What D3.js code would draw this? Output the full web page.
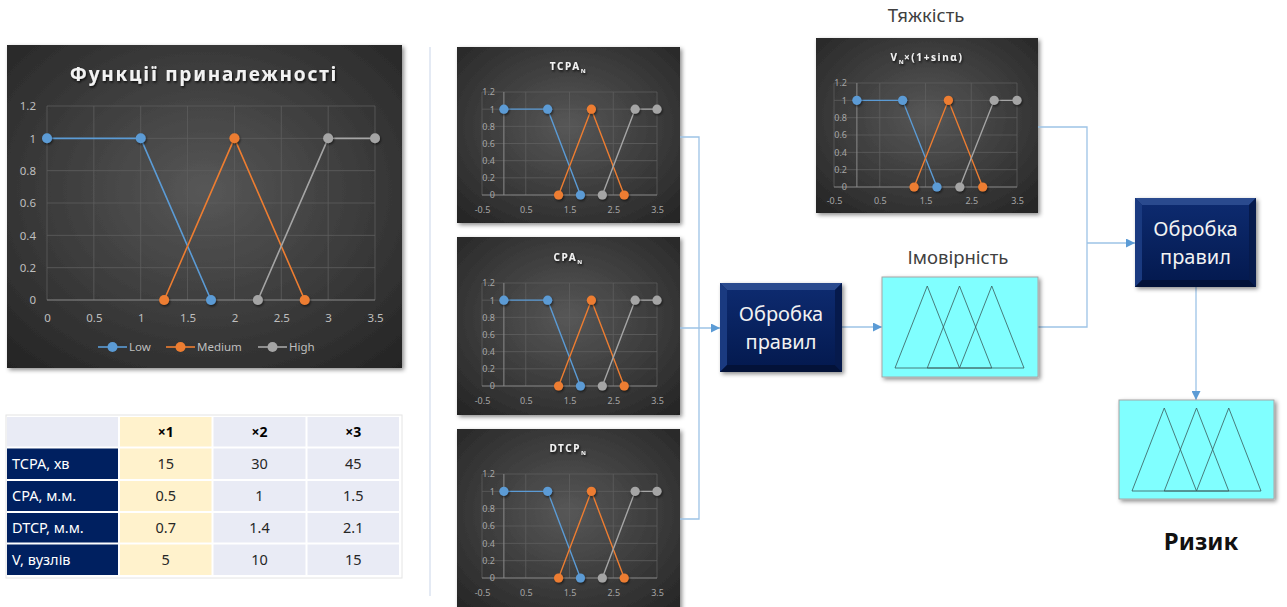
<!DOCTYPE html>
<html><head><meta charset="utf-8">
<script src="https://cdn.jsdelivr.net/npm/d3@7"></script>
<style>
body{margin:0;background:#fff;}
svg{display:block;font-family:"Noto Sans","DejaVu Sans",sans-serif;}
</style>
</head><body>
<svg id="c" width="1287" height="607"></svg>
<script>
// Membership functions: x-coordinates and degrees for each linguistic term
const lowX = [0, 1, 1.75],    lowY = [1, 1, 0];
const medX = [1.25, 2, 2.75], medY = [0, 1, 0];
const highX = [2.25, 3, 3.5], highY = [0, 1, 1];
const seriesNames = ["Low", "Medium", "High"];
const seriesColors = ["#5B9BD5", "#ED7D31", "#A5A5A5"];

const bigXTicks = [0, 0.5, 1, 1.5, 2, 2.5, 3, 3.5];
const smallXTicks = [-0.5, 0.5, 1.5, 2.5, 3.5];
const yTicks = [0, 0.2, 0.4, 0.6, 0.8, 1, 1.2];

// Normalisation table
const tableHead = ["", "×1", "×2", "×3"];
const tableRows = ["TCPA, хв", "CPA, м.м.", "DTCP, м.м.", "V, вузлів"];
const x1Vals = [15, 0.5, 0.7, 5];
const x2Vals = [30, 1, 1.4, 10];
const x3Vals = [45, 1.5, 2.1, 15];

// Output fuzzy terms (triangles centred on these points, half-width 1)
const outCenters = [0, 1, 2];

const svg = d3.select("#c");
const defs = svg.append("defs");

const rg = defs.append("radialGradient").attr("id", "bg")
  .attr("cx", "50%").attr("cy", "45%").attr("r", "75%");
rg.append("stop").attr("offset", "0%").attr("stop-color", "#575757");
rg.append("stop").attr("offset", "100%").attr("stop-color", "#232323");

function shadow(id, dx, dy, sd, op) {
  defs.append("filter").attr("id", id)
    .attr("x", "-20%").attr("y", "-20%").attr("width", "150%").attr("height", "150%")
    .append("feDropShadow").attr("dx", dx).attr("dy", dy)
    .attr("stdDeviation", sd).attr("flood-color", "#000").attr("flood-opacity", op);
}
shadow("boxShadow", 2, 2, 2, 0.45);
shadow("textShadow", 1, 1.5, 1, 0.8);
shadow("dotShadow", 1, 1.5, 1, 0.55);

const navyGrad = defs.append("linearGradient").attr("id", "navy")
  .attr("x1", 0).attr("y1", 0).attr("x2", 0).attr("y2", 1);
navyGrad.append("stop").attr("offset", "0%").attr("stop-color", "#0d2a6e");
navyGrad.append("stop").attr("offset", "100%").attr("stop-color", "#041a50");

const lineColor = "#9DC3E6";
const arrowColor = "#5B9BD5";
defs.append("marker").attr("id", "arrow")
  .attr("viewBox", "0 0 10 10").attr("refX", 10).attr("refY", 5)
  .attr("markerWidth", 9).attr("markerHeight", 9).attr("markerUnits", "userSpaceOnUse")
  .attr("orient", "auto")
  .append("path").attr("d", "M0,0L10,5L0,10Z").attr("fill", arrowColor);

const series = [[lowX, lowY], [medX, medY], [highX, highY]];

// A membership-function chart on a dark panel
function mfChart(cfg) {
  const g = svg.append("g");
  g.append("rect").attr("x", cfg.x).attr("y", cfg.y).attr("width", cfg.w).attr("height", cfg.h)
    .attr("fill", "url(#bg)").attr("filter", "url(#boxShadow)");

  const xs = d3.scaleLinear().domain(cfg.xDomain).range(cfg.xRange);
  const ys = d3.scaleLinear().domain([0, 1.2]).range(cfg.yRange);

  // grid
  g.selectAll(null).data(yTicks.filter(v => v > 0)).join("line")
    .attr("x1", cfg.xRange[0]).attr("x2", cfg.xRange[1])
    .attr("y1", d => ys(d)).attr("y2", d => ys(d))
    .attr("stroke", "#5e5e5e").attr("stroke-width", 0.8);
  g.selectAll(null).data(cfg.gridX).join("line")
    .attr("x1", d => xs(d)).attr("x2", d => xs(d))
    .attr("y1", ys(0)).attr("y2", ys(1.2))
    .attr("stroke", "#5e5e5e").attr("stroke-width", 0.8);
  if (cfg.axisX != null) {
    g.append("line").attr("x1", xs(cfg.axisX)).attr("x2", xs(cfg.axisX))
      .attr("y1", ys(0)).attr("y2", ys(1.2))
      .attr("stroke", "#8a8a8a").attr("stroke-width", 1);
  }
  g.append("line").attr("x1", cfg.xRange[0]).attr("x2", cfg.xRange[1])
    .attr("y1", ys(0)).attr("y2", ys(0))
    .attr("stroke", "#8a8a8a").attr("stroke-width", 1);

  // tick labels
  const xa = g.append("g").attr("transform", `translate(0,${ys(0)})`)
    .call(d3.axisBottom(xs).tickValues(cfg.xTicks).tickSize(0)
      .tickPadding(cfg.xPad).tickFormat(d => String(d)));
  const ya = g.append("g").attr("transform", `translate(${cfg.yLabelX},0)`)
    .call(d3.axisLeft(ys).tickValues(yTicks).tickSize(0)
      .tickPadding(0).tickFormat(d => String(d)));
  [xa, ya].forEach(a => {
    a.select(".domain").remove();
    a.selectAll("text").attr("fill", cfg.labelColor).attr("font-size", cfg.fs)
      .attr("font-family", "'Noto Sans',sans-serif");
  });

  // series
  const line = d3.line().x(d => xs(d[0])).y(d => ys(d[1]));
  series.forEach((s, i) => {
    const pts = s[0].map((v, k) => [v, s[1][k]]);
    g.append("path").attr("d", line(pts)).attr("fill", "none")
      .attr("stroke", seriesColors[i]).attr("stroke-width", cfg.lw);
  });
  series.forEach((s, i) => {
    const pts = s[0].map((v, k) => [v, s[1][k]]);
    g.selectAll(null).data(pts).join("circle")
      .attr("cx", d => xs(d[0])).attr("cy", d => ys(d[1])).attr("r", cfg.r)
      .attr("fill", seriesColors[i]).attr("filter", "url(#dotShadow)");
  });

  // title
  const t = g.append("text").attr("x", cfg.titleX).attr("y", cfg.titleY)
    .attr("text-anchor", "middle").attr("fill", "#f2f2f2")
    .attr("font-weight", "bold").attr("font-size", cfg.titleFs)
    .attr("letter-spacing", cfg.titleLs).attr("filter", "url(#textShadow)");
  cfg.title.forEach(p => {
    const ts = t.append("tspan").text(p.t);
    if (p.sub) ts.attr("font-size", cfg.titleFs * 0.6).attr("dy", 2.5).attr("letter-spacing", 0.5);
    if (p.back) ts.attr("dy", -2.5);
  });
  return { g, xs, ys };
}

// Main chart
const big = mfChart({
  x: 7, y: 45, w: 395, h: 323,
  xDomain: [0, 3.5], xRange: [47, 375], yRange: [300, 106],
  gridX: bigXTicks, axisX: null, xTicks: bigXTicks, xPad: 14,
  yLabelX: 36, fs: 11.5, labelColor: "#bfbfbf", lw: 1.6, r: 5,
  title: [{ t: "Функції приналежності" }], titleX: 204, titleY: 81, titleFs: 19, titleLs: 1.8
});
// legend of the main chart
const legX = [98, 166, 258];
seriesNames.forEach((n, i) => {
  const lg = big.g.append("g").attr("transform", `translate(${legX[i]},347)`);
  lg.append("line").attr("x1", 0).attr("x2", 29).attr("stroke", seriesColors[i]).attr("stroke-width", 1.6);
  lg.append("circle").attr("cx", 14.5).attr("r", 5).attr("fill", seriesColors[i]);
  lg.append("text").attr("x", 31).attr("dy", "0.35em").attr("font-size", 11.5)
    .attr("fill", "#bfbfbf").text(n);
});

// Input variables
const smallCommon = {
  xDomain: [-0.5, 3.5], gridX: smallXTicks, axisX: 0, xTicks: smallXTicks,
  fs: 9, labelColor: "#a6a6a6", lw: 1.4, r: 4.6, titleFs: 10, titleLs: 1.6
};
mfChart(Object.assign({}, smallCommon, {
  x: 457, y: 47, w: 223, h: 176, xRange: [482, 657], yRange: [195, 92],
  xPad: 12, yLabelX: 495, title: [{ t: "TCPA" }, { t: "N", sub: true }],
  titleX: 568, titleY: 70
}));
mfChart(Object.assign({}, smallCommon, {
  x: 457, y: 237, w: 223, h: 178, xRange: [482, 657], yRange: [386, 283],
  xPad: 12, yLabelX: 495, title: [{ t: "CPA" }, { t: "N", sub: true }],
  titleX: 568, titleY: 261
}));
mfChart(Object.assign({}, smallCommon, {
  x: 457, y: 429, w: 223, h: 185, xRange: [482, 657], yRange: [578, 474],
  xPad: 12, yLabelX: 495, title: [{ t: "DTCP" }, { t: "N", sub: true }],
  titleX: 568, titleY: 452
}));
mfChart(Object.assign({}, smallCommon, {
  x: 816, y: 38, w: 222, h: 175, xRange: [834, 1017], yRange: [187, 83],
  xPad: 11, yLabelX: 847,
  title: [{ t: "V" }, { t: "N", sub: true }, { t: "×(1+sinα)", back: true }],
  titleX: 927, titleY: 61
}));

// Table of scale values
const colEdges = [7, 119, 212.5, 306.5, 400];
const rowEdges = [417, 447.5, 480, 512, 543.5, 576];
const tg = svg.append("g");
tg.append("rect").attr("x", 6).attr("y", 415).attr("width", 396).attr("height", 163)
  .attr("fill", "#fff").attr("stroke", "#e4e4e4").attr("stroke-width", 1);
const colVals = [x1Vals, x2Vals, x3Vals];
for (let r = 0; r < 5; r++) {
  for (let c = 0; c < 4; c++) {
    let fill;
    if (c === 0) fill = r === 0 ? "#E9EBF5" : "#002060";
    else if (c === 1) fill = "#FFF2CC";
    else fill = "#E9EBF5";
    const x0 = colEdges[c] + (c ? 1 : 0), x1 = colEdges[c + 1] - 1;
    const y0 = rowEdges[r] + (r ? 1 : 0), y1 = rowEdges[r + 1] - 1;
    tg.append("rect").attr("x", x0).attr("y", y0).attr("width", x1 - x0).attr("height", y1 - y0)
      .attr("fill", fill);
    const cy = (rowEdges[r] + rowEdges[r + 1]) / 2;
    if (r === 0) {
      if (c > 0) tg.append("text").attr("x", (colEdges[c] + colEdges[c + 1]) / 2).attr("y", cy)
        .attr("dy", "0.35em").attr("text-anchor", "middle").attr("font-weight", "bold")
        .attr("font-size", 14).attr("fill", "#000").text(tableHead[c]);
    } else if (c === 0) {
      tg.append("text").attr("x", 12).attr("y", cy).attr("dy", "0.35em")
        .attr("font-size", 14.5).attr("fill", "#fff").text(tableRows[r - 1]);
    } else {
      tg.append("text").attr("x", (colEdges[c] + colEdges[c + 1]) / 2).attr("y", cy)
        .attr("dy", "0.35em").attr("text-anchor", "middle")
        .attr("font-size", 14.5).attr("fill", "#262626").text(colVals[c - 1][r - 1]);
    }
  }
}

// Divider
svg.append("line").attr("x1", 430).attr("x2", 430).attr("y1", 47).attr("y2", 596)
  .attr("stroke", "#dbe3f0").attr("stroke-width", 1.5);

// Connectors
const conn = svg.append("g").attr("fill", "none").attr("stroke", lineColor).attr("stroke-width", 1.3);
conn.append("path").attr("d", "M680,137H699V519H680");
conn.append("path").attr("d", "M680,328H720").attr("marker-end", "url(#arrow)");
conn.append("path").attr("d", "M842,327H882").attr("marker-end", "url(#arrow)");
conn.append("path").attr("d", "M1038,327H1087V127H1038");
conn.append("path").attr("d", "M1087,243H1135").attr("marker-end", "url(#arrow)");
conn.append("path").attr("d", "M1196,287V400").attr("marker-end", "url(#arrow)");

// Bevelled rule-processing block
function bevelBox(x, y, w, h, lines) {
  const g = svg.append("g");
  const b = 7;
  g.append("rect").attr("x", x).attr("y", y).attr("width", w).attr("height", h)
    .attr("fill", "#0a2464").attr("filter", "url(#boxShadow)");
  const poly = (pts, f) => g.append("polygon").attr("points", pts.map(p => p.join(",")).join(" ")).attr("fill", f);
  poly([[x, y], [x + w, y], [x + w - b, y + b], [x + b, y + b]], "#2a4a8e");
  poly([[x, y], [x + b, y + b], [x + b, y + h - b], [x, y + h]], "#1a3a80");
  poly([[x + w, y], [x + w, y + h], [x + w - b, y + h - b], [x + w - b, y + b]], "#061a4c");
  poly([[x, y + h], [x + b, y + h - b], [x + w - b, y + h - b], [x + w, y + h]], "#031238");
  g.append("rect").attr("x", x + b).attr("y", y + b).attr("width", w - 2 * b).attr("height", h - 2 * b)
    .attr("fill", "url(#navy)");
  lines.forEach((t, i) => {
    g.append("text").attr("x", x + w / 2).attr("y", y + h / 2 + (i - 0.5) * 28)
      .attr("dy", "0.35em").attr("text-anchor", "middle").attr("font-size", 20)
      .attr("fill", "#f2f2f2").text(t);
  });
}
bevelBox(720, 283, 122, 89, ["Обробка", "правил"]);
bevelBox(1135, 198, 121, 89, ["Обробка", "правил"]);

// Fuzzy output term sets
function termBox(x, y, w, h, xr, yr) {
  const g = svg.append("g");
  g.append("rect").attr("x", x).attr("y", y).attr("width", w).attr("height", h)
    .attr("fill", "#80FFFF").attr("stroke", "#a6a6a6").attr("stroke-width", 1)
    .attr("filter", "url(#boxShadow)");
  const xs = d3.scaleLinear().domain([-1, 3]).range(xr);
  const ys = d3.scaleLinear().domain([0, 1]).range(yr);
  const line = d3.line().x(d => xs(d[0])).y(d => ys(d[1]));
  outCenters.forEach(c => {
    g.append("path").attr("d", line([[c - 1, 0], [c, 1], [c + 1, 0]]) + "Z")
      .attr("fill", "none").attr("stroke", "#3a5a5a").attr("stroke-width", 0.8);
  });
}
termBox(882, 277, 156, 100, [895, 1024], [368, 286]);
termBox(1119, 400, 155, 99, [1132, 1261], [491, 408]);

// Captions
svg.append("text").attr("x", 926).attr("y", 16).attr("dy", "0.35em").attr("text-anchor", "middle")
  .attr("font-size", 18.5).attr("fill", "#404040").text("Тяжкість");
svg.append("text").attr("x", 958).attr("y", 258).attr("dy", "0.35em").attr("text-anchor", "middle")
  .attr("font-size", 18.5).attr("fill", "#404040").text("Імовірність");
svg.append("text").attr("x", 1201).attr("y", 542).attr("dy", "0.35em").attr("text-anchor", "middle")
  .attr("font-size", 24).attr("font-weight", "bold").attr("fill", "#111").text("Ризик");
</script>
</body></html>
